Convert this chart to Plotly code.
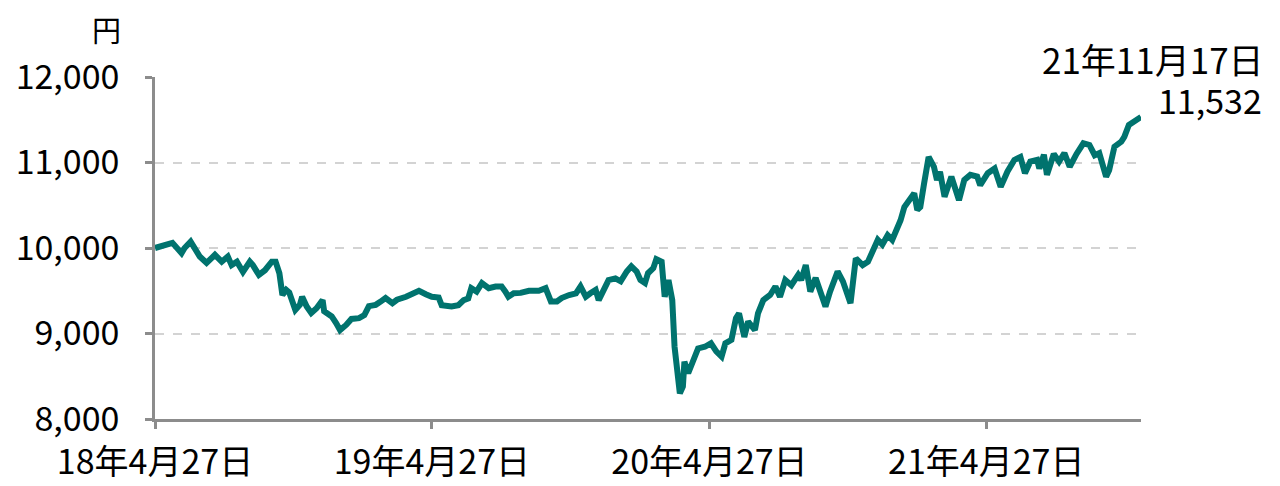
import plotly.graph_objects as go

dates = [
    "2018-04-27", "2018-05-07", "2018-05-20", "2018-06-01", "2018-06-05", "2018-06-13",
    "2018-06-18", "2018-06-25", "2018-07-04", "2018-07-15", "2018-07-24", "2018-08-01",
    "2018-08-06", "2018-08-13", "2018-08-21", "2018-08-30", "2018-09-03", "2018-09-11",
    "2018-09-19", "2018-09-28", "2018-10-03", "2018-10-08", "2018-10-12", "2018-10-17",
    "2018-10-21", "2018-10-29", "2018-11-04", "2018-11-07", "2018-11-13", "2018-11-19",
    "2018-11-26", "2018-12-04", "2018-12-06", "2018-12-16", "2018-12-22", "2018-12-27",
    "2019-01-04", "2019-01-11", "2019-01-21", "2019-01-28", "2019-02-03", "2019-02-12",
    "2019-02-18", "2019-02-25", "2019-03-06", "2019-03-12", "2019-03-24", "2019-04-01",
    "2019-04-10", "2019-04-19", "2019-04-27", "2019-05-06", "2019-05-10", "2019-05-23",
    "2019-06-01", "2019-06-08", "2019-06-14", "2019-06-18", "2019-06-25", "2019-07-02",
    "2019-07-11", "2019-07-20", "2019-07-28", "2019-08-02", "2019-08-06", "2019-08-13",
    "2019-08-22", "2019-09-02", "2019-09-15", "2019-09-24", "2019-10-01", "2019-10-09",
    "2019-10-15", "2019-10-25", "2019-11-03", "2019-11-09", "2019-11-16", "2019-11-22",
    "2019-11-29", "2019-12-03", "2019-12-09", "2019-12-16", "2019-12-25", "2020-01-01",
    "2020-01-09", "2020-01-15", "2020-01-22", "2020-01-27", "2020-02-02", "2020-02-06",
    "2020-02-13", "2020-02-17", "2020-02-24", "2020-02-28", "2020-03-04", "2020-03-09",
    "2020-03-12", "2020-03-16", "2020-03-19", "2020-03-23", "2020-03-25", "2020-03-30",
    "2020-04-06", "2020-04-12", "2020-04-21", "2020-04-29", "2020-05-06", "2020-05-13",
    "2020-05-18", "2020-05-26", "2020-06-01", "2020-06-05", "2020-06-12", "2020-06-17",
    "2020-06-26", "2020-06-30", "2020-07-07", "2020-07-16", "2020-07-23", "2020-07-29",
    "2020-08-05", "2020-08-13", "2020-08-22", "2020-08-26", "2020-09-01", "2020-09-07",
    "2020-09-14", "2020-09-20", "2020-09-27", "2020-10-03", "2020-10-13", "2020-10-20",
    "2020-10-30", "2020-11-06", "2020-11-15", "2020-11-22", "2020-12-01", "2020-12-05",
    "2020-12-11", "2020-12-18", "2020-12-24", "2020-12-31", "2021-01-04", "2021-01-09",
    "2021-01-16", "2021-01-22", "2021-01-26", "2021-01-30", "2021-02-04", "2021-02-10",
    "2021-02-17", "2021-02-21", "2021-02-25", "2021-03-03", "2021-03-12", "2021-03-22",
    "2021-03-29", "2021-04-06", "2021-04-15", "2021-04-19", "2021-04-29", "2021-05-08",
    "2021-05-16", "2021-05-25", "2021-06-03", "2021-06-11", "2021-06-17", "2021-06-24",
    "2021-07-03", "2021-07-06", "2021-07-12", "2021-07-16", "2021-07-25", "2021-08-01",
    "2021-08-08", "2021-08-15", "2021-08-24", "2021-09-02", "2021-09-10", "2021-09-17",
    "2021-09-23", "2021-10-02", "2021-10-06", "2021-10-13", "2021-10-22", "2021-10-26",
    "2021-11-01", "2021-11-08", "2021-11-17",
]

values = [
    10000, 10020, 10060, 9940, 10000, 10075,
    9995, 9900, 9825, 9920, 9840, 9900,
    9800, 9840, 9720, 9840, 9800, 9685,
    9740, 9840, 9840, 9705, 9450, 9510,
    9480, 9275, 9335, 9430, 9315, 9240,
    9295, 9390, 9260, 9200, 9120, 9040,
    9100, 9170, 9180, 9215, 9320, 9335,
    9370, 9415, 9355, 9395, 9430, 9470,
    9500, 9460, 9430, 9420, 9330, 9315,
    9330, 9390, 9410, 9530, 9490, 9590,
    9530, 9550, 9550, 9490, 9430, 9470,
    9475, 9500, 9500, 9530, 9375, 9375,
    9415, 9450, 9470, 9550, 9430, 9470,
    9510, 9390, 9490, 9625, 9645, 9610,
    9725, 9785, 9725, 9625, 9590, 9705,
    9765, 9870, 9840, 9430, 9625, 9390,
    8845, 8575, 8300, 8380, 8670, 8535,
    8710, 8825, 8845, 8885, 8790, 8730,
    8885, 8925, 9180, 9235, 8960, 9140,
    9040, 9235, 9390, 9450, 9550, 9430,
    9625, 9565, 9685, 9625, 9800, 9490,
    9650, 9470, 9315, 9490, 9725, 9610,
    9355, 9880, 9800, 9840, 9995, 10095,
    10040, 10150, 10095, 10230, 10325, 10480,
    10580, 10640, 10445, 10480, 10755, 11065,
    10950, 10795, 10890, 10600, 10835, 10560,
    10795, 10855, 10835, 10735, 10875, 10930,
    10715, 10895, 11030, 11065, 10875, 11010,
    11030, 10930, 11090, 10855, 11100, 11010,
    11110, 10950, 11100, 11225, 11205, 11085,
    11110, 10835, 10910, 11185, 11245, 11300,
    11440, 11480, 11532,
]

x_tick_dates = ["2018-04-27", "2019-04-27", "2020-04-27", "2021-04-27"]
x_tick_labels = ["18年4月27日", "19年4月27日", "20年4月27日", "21年4月27日"]
y_tick_vals = [8000, 9000, 10000, 11000, 12000]
y_tick_labels = ["8,000", "9,000", "10,000", "11,000", "12,000"]

last_date_label = "21年11月17日"
last_value_label = "11,532"
unit_label = "円"

FONT = "Noto Sans CJK JP"
LINE_COLOR = "#00736E"
AXIS_COLOR = "#8C8C8C"
GRID_COLOR = "#D3D3D3"

fig = go.Figure()
fig.add_trace(go.Scatter(
    x=dates, y=values, mode="lines",
    line=dict(color=LINE_COLOR, width=6),
    hoverinfo="skip", showlegend=False,
))

fig.update_layout(
    width=1272, height=478,
    margin=dict(l=147, r=139, t=69, b=67, autoexpand=False),
    paper_bgcolor="white", plot_bgcolor="white",
    font=dict(family=FONT, color="#000000", size=32),
    showlegend=False,
    annotations=[
        dict(text=unit_label, xref="paper", yref="paper", x=0.0, y=1.0,
             xshift=-32, yshift=48, xanchor="right", yanchor="middle", showarrow=False,
             font=dict(family=FONT, size=29, color="#000")),
        dict(text=last_date_label,
             xref="paper", yref="paper", x=1.0, y=1.0, xshift=125, yshift=19,
             xanchor="right", yanchor="middle", align="right", showarrow=False,
             font=dict(family=FONT, size=35, color="#000")),
        dict(text=last_value_label,
             xref="paper", yref="paper", x=1.0, y=1.0, xshift=123, yshift=-22,
             xanchor="right", yanchor="middle", align="right", showarrow=False,
             font=dict(family=FONT, size=34, color="#000")),
    ],
)

fig.update_xaxes(
    type="date", range=["2018-04-27", "2021-11-17"],
    tickmode="array", tickvals=x_tick_dates, ticktext=x_tick_labels,
    showgrid=False, zeroline=False, automargin=False,
    showline=True, linecolor=AXIS_COLOR, linewidth=2.5,
    ticks="outside", ticklen=7, tickwidth=2.5, tickcolor=AXIS_COLOR,
    tickfont=dict(family=FONT, size=34, color="#000"),
    ticklabelstandoff=4,
)

fig.update_yaxes(
    range=[8000, 12000], automargin=False,
    tickmode="array", tickvals=y_tick_vals, ticktext=y_tick_labels,
    showgrid=True, gridcolor=GRID_COLOR, griddash="dash", gridwidth=2,
    zeroline=False,
    showline=True, linecolor=AXIS_COLOR, linewidth=2.5,
    ticks="outside", ticklen=7, tickwidth=2.5, tickcolor=AXIS_COLOR,
    tickfont=dict(family=FONT, size=34, color="#000"),
    ticklabelstandoff=19,
)

fig.write_html("out.html")
